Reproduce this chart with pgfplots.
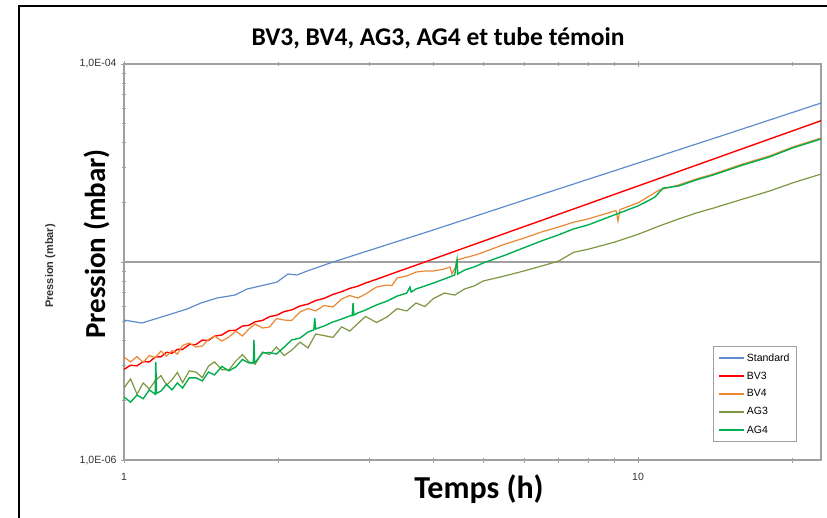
\documentclass[border=0pt]{standalone}
\usepackage{pgfplots}
\pgfplotsset{compat=1.18}
\usepackage{fontspec}
\setmainfont{Liberation Sans}
\newfontfamily\calfont{Carlito}
\definecolor{cstd}{RGB}{95,140,205}
\definecolor{cbv3}{RGB}{255,0,0}
\definecolor{cbv4}{RGB}{235,135,50}
\definecolor{cag3}{RGB}{125,150,65}
\definecolor{cag4}{RGB}{0,176,80}
\definecolor{caxis}{RGB}{160,160,160}
\begin{document}
\begin{tikzpicture}[x=1pt,y=1pt]
\useasboundingbox (0,0) rectangle (827,518);
\draw[line width=2pt] (19,-5) -- (19,512) -- (832,512);
\begin{axis}[
  at={(124pt,58pt)}, anchor=south west,
  width=697pt, height=396pt, scale only axis,
  xmode=log, ymode=log,
  xmin=1, xmax=22.7, ymin=1e-6, ymax=1e-4,
  axis line style={draw=caxis, line width=1.2pt},
  xtick={1,10}, xticklabels={1,10},
  minor xtick={2,3,4,5,6,7,8,9,20},
  ytick={1e-6,1e-5,1e-4}, yticklabels={{1,0E-06},{},{1,0E-04}},
  minor ytick={2e-6,3e-6,4e-6,5e-6,6e-6,7e-6,8e-6,9e-6,2e-5,3e-5,4e-5,5e-5,6e-5,7e-5,8e-5,9e-5},
  ytick pos=left, xtick pos=both,
  tick align=center,
  major tick length=6pt, minor tick length=5pt,
  tick style={draw=caxis, line width=0.8pt},
  ymajorgrids, grid style={draw=caxis, line width=1.2pt},
  ticklabel style={font=\fontsize{10.5}{12}\selectfont, text=black!80},
  xticklabel style={yshift=-7pt},
  yticklabel style={xshift=-1pt},
  legend style={at={(0.8451,0.2879)}, anchor=north west, draw=caxis, line width=0.8pt,
    font=\fontsize{10.5}{12}\selectfont, row sep=5.2pt, inner xsep=5pt, inner ysep=5pt,
    cells={anchor=west}},
  legend image code/.code={\draw[#1, line width=1.4pt] (0pt,0pt) -- (25pt,0pt);},
  legend cell align=left,
]
\addplot[cstd, line width=1.2pt] coordinates {(1,5.09e-6)(1.084,4.92e-6)(1.218,5.40e-6)(1.326,5.79e-6)(1.412,6.21e-6)(1.517,6.58e-6)(1.644,6.81e-6)(1.735,7.30e-6)(1.985,7.92e-6)(2.085,8.70e-6)(2.171,8.60e-6)(2.270,9.00e-6)(2.551,1.0e-5)(3.992,1.45e-5)(6.166,2.10e-5)(10,3.16e-5)(15.1,4.48e-5)(22.7,6.35e-5)};
\addlegendentry{Standard}
\addplot[cbv3, line width=1.4pt] coordinates {(1,2.87e-6)(1.03,3.01e-6)(1.06,2.99e-6)(1.09,3.14e-6)(1.12,3.13e-6)(1.15,3.31e-6)(1.18,3.32e-6)(1.21,3.50e-6)(1.24,3.46e-6)(1.27,3.62e-6)(1.30,3.62e-6)(1.34,3.83e-6)(1.38,3.83e-6)(1.42,4.03e-6)(1.46,4.02e-6)(1.50,4.22e-6)(1.55,4.28e-6)(1.60,4.50e-6)(1.65,4.52e-6)(1.70,4.75e-6)(1.75,4.79e-6)(1.80,4.99e-6)(1.86,5.07e-6)(1.92,5.30e-6)(1.98,5.38e-6)(2.05,5.62e-6)(2.12,5.73e-6)(2.20,6.00e-6)(2.28,6.13e-6)(2.36,6.39e-6)(2.45,6.55e-6)(2.55,6.86e-6)(2.65,7.08e-6)(2.75,7.36e-6)(2.85,7.55e-6)(2.95,7.83e-6)(3.10,8.18e-6)(3.25,8.55e-6)(3.40,8.92e-6)(3.55,9.28e-6)(3.70,9.64e-6)(3.85,1.000e-5)(4.00,1.036e-5)(4.20,1.084e-5)(4.40,1.132e-5)(4.60,1.180e-5)(4.80,1.227e-5)(5.00,1.274e-5)(5.50,1.392e-5)(6.00,1.509e-5)(6.50,1.624e-5)(7.00,1.740e-5)(7.50,1.854e-5)(8.00,1.969e-5)(9.00,2.196e-5)(10,2.421e-5)(11,2.644e-5)(12,2.866e-5)(13,3.087e-5)(14,3.306e-5)(16,3.741e-5)(18,4.173e-5)(20,4.599e-5)(22.7,5.172e-5)};
\addlegendentry{BV3}
\addplot[cbv4, line width=1.2pt] coordinates {(1,3.31e-6)(1.03,3.13e-6)(1.06,3.33e-6)(1.09,3.11e-6)(1.12,3.37e-6)(1.15,3.29e-6)(1.18,3.55e-6)(1.21,3.35e-6)(1.24,3.57e-6)(1.27,3.43e-6)(1.30,3.79e-6)(1.34,3.90e-6)(1.38,3.72e-6)(1.42,3.77e-6)(1.46,4.06e-6)(1.50,4.23e-6)(1.55,3.99e-6)(1.60,4.18e-6)(1.65,4.48e-6)(1.70,4.23e-6)(1.75,4.59e-6)(1.80,4.86e-6)(1.86,4.64e-6)(1.92,4.70e-6)(1.98,5.18e-6)(2.05,5.09e-6)(2.12,5.07e-6)(2.20,5.59e-6)(2.28,5.82e-6)(2.36,5.66e-6)(2.45,6.03e-6)(2.55,5.93e-6)(2.65,6.50e-6)(2.75,6.77e-6)(2.85,6.58e-6)(2.95,6.89e-6)(3.10,7.48e-6)(3.25,7.65e-6)(3.32,7.60e-6)(3.40,8.30e-6)(3.55,8.50e-6)(3.70,8.90e-6)(3.85,9.01e-6)(4.00,9.01e-6)(4.20,9.22e-6)(4.307,9.44e-6)(4.346,8.70e-6)(4.406,9.33e-6)(4.445,1.024e-5)(4.60,1.05e-5)(4.80,1.08e-5)(5.00,1.12e-5)(5.50,1.23e-5)(6.00,1.32e-5)(6.50,1.42e-5)(7.00,1.50e-5)(7.50,1.59e-5)(8.00,1.65e-5)(9.00,1.81e-5)(9.063,1.82e-5)(9.144,1.61e-5)(9.226,1.84e-5)(10,1.99e-5)(11,2.31e-5)(12,2.45e-5)(13,2.63e-5)(14,2.78e-5)(16,3.13e-5)(18,3.43e-5)(20,3.81e-5)(22.7,4.23e-5)};
\addlegendentry{BV4}
\addplot[cag3, line width=1.2pt] coordinates {(1,2.31e-6)(1.03,2.57e-6)(1.06,2.15e-6)(1.09,2.45e-6)(1.12,2.28e-6)(1.15,2.51e-6)(1.18,2.67e-6)(1.21,2.39e-6)(1.24,2.54e-6)(1.27,2.77e-6)(1.30,2.46e-6)(1.34,2.82e-6)(1.38,2.78e-6)(1.42,2.61e-6)(1.46,2.98e-6)(1.50,3.13e-6)(1.55,2.86e-6)(1.60,2.85e-6)(1.65,3.16e-6)(1.70,3.41e-6)(1.75,3.13e-6)(1.80,3.05e-6)(1.86,3.51e-6)(1.92,3.41e-6)(1.98,3.72e-6)(2.05,3.37e-6)(2.12,3.59e-6)(2.20,3.94e-6)(2.28,3.68e-6)(2.36,4.33e-6)(2.45,4.25e-6)(2.55,4.16e-6)(2.65,4.70e-6)(2.75,4.48e-6)(2.85,4.89e-6)(2.95,5.31e-6)(3.10,4.95e-6)(3.25,5.28e-6)(3.40,5.82e-6)(3.55,5.66e-6)(3.70,6.21e-6)(3.85,5.96e-6)(4.00,6.54e-6)(4.20,6.97e-6)(4.40,6.81e-6)(4.60,7.31e-6)(4.80,7.57e-6)(5.00,8.02e-6)(5.50,8.50e-6)(6.00,9.01e-6)(6.50,9.55e-6)(7.00,1.01e-5)(7.50,1.12e-5)(8.00,1.16e-5)(9.00,1.26e-5)(10,1.38e-5)(11,1.52e-5)(12,1.65e-5)(13,1.77e-5)(14,1.87e-5)(16,2.08e-5)(18,2.28e-5)(20,2.51e-5)(22.7,2.78e-5)};
\addlegendentry{AG3}
\addplot[cag4, line width=1.4pt] coordinates {(1,2.08e-6)(1.03,1.96e-6)(1.06,2.13e-6)(1.09,2.04e-6)(1.12,2.26e-6)(1.15,2.15e-6)(1.153,3.13e-6)(1.157,2.17e-6)(1.18,2.23e-6)(1.21,2.41e-6)(1.24,2.26e-6)(1.27,2.45e-6)(1.30,2.31e-6)(1.34,2.60e-6)(1.38,2.60e-6)(1.42,2.51e-6)(1.46,2.78e-6)(1.50,2.69e-6)(1.55,2.97e-6)(1.60,2.82e-6)(1.65,2.95e-6)(1.70,3.22e-6)(1.75,3.09e-6)(1.785,3.10e-6)(1.79,4.04e-6)(1.795,3.11e-6)(1.80,3.11e-6)(1.86,3.47e-6)(1.92,3.49e-6)(1.98,3.43e-6)(2.05,3.72e-6)(2.12,4.04e-6)(2.20,4.13e-6)(2.28,4.43e-6)(2.34,4.54e-6)(2.35,5.21e-6)(2.36,4.59e-6)(2.45,4.75e-6)(2.55,4.98e-6)(2.65,5.15e-6)(2.75,5.34e-6)(2.78,5.37e-6)(2.79,6.21e-6)(2.80,5.40e-6)(2.85,5.53e-6)(2.95,5.72e-6)(3.10,6.07e-6)(3.25,6.35e-6)(3.40,6.73e-6)(3.55,6.97e-6)(3.60,7.48e-6)(3.62,7.05e-6)(3.70,7.31e-6)(3.85,7.57e-6)(4.00,7.83e-6)(4.20,8.21e-6)(4.40,8.60e-6)(4.445,1.024e-5)(4.46,8.70e-6)(4.60,9.11e-6)(4.80,9.44e-6)(5.00,9.89e-6)(5.50,1.08e-5)(6.00,1.18e-5)(6.50,1.28e-5)(7.00,1.37e-5)(7.50,1.47e-5)(8.00,1.54e-5)(9.00,1.73e-5)(10,1.92e-5)(10.55,2.06e-5)(10.79,2.13e-5)(11.18,2.36e-5)(12,2.42e-5)(13,2.60e-5)(14,2.75e-5)(16,3.09e-5)(18,3.39e-5)(20,3.77e-5)(22.7,4.18e-5)};
\addlegendentry{AG4}
\end{axis}
\node[anchor=base, font=\calfont\bfseries\fontsize{25.5}{30}\selectfont] at (438,472) {BV3, BV4, AG3, AG4 et tube témoin};
\node[anchor=base, font=\calfont\bfseries\fontsize{32}{37}\selectfont] at (479,19) {Temps (h)};
\node[anchor=base, rotate=90, font=\calfont\bfseries\fontsize{29}{34}\selectfont] at (105,274) {Pression (mbar)};
\node[anchor=base, rotate=90, font=\bfseries\fontsize{11}{13}\selectfont, text=black!80] at (53,252) {Pression (mbar)};
\end{tikzpicture}
\end{document}
